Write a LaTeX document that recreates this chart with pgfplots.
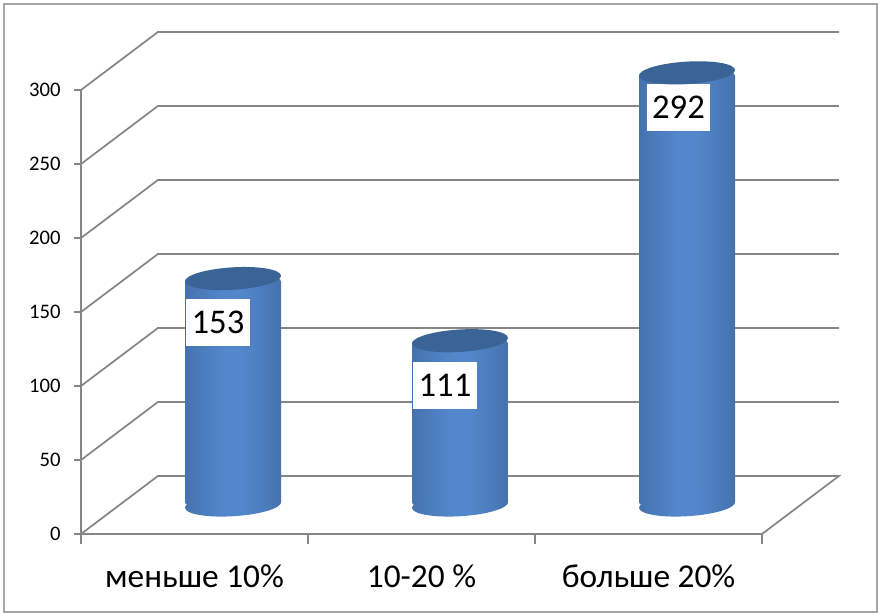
\documentclass[border=0pt]{standalone}
\usepackage{fontspec}
\setmainfont{Carlito}
\usepackage{pgfplots}
\pgfplotsset{compat=1.18}
\definecolor{gridc}{HTML}{868686}
\definecolor{framec}{HTML}{A6A6A6}
\definecolor{capc}{HTML}{3A6496}
\definecolor{cyla}{HTML}{2E4F7E}
\definecolor{cylb}{HTML}{3F689E}
\definecolor{cylc}{HTML}{5287CC}
\definecolor{cyld}{HTML}{3F689E}
\definecolor{cyle}{HTML}{2B4A77}
\pgfdeclarehorizontalshading{barcyl}{100bp}{
  color(0bp)=(cyla);
  color(15bp)=(cylb);
  color(45bp)=(cylc);
  color(55bp)=(cylc);
  color(85bp)=(cyld);
  color(100bp)=(cyle)}
\pgfdeclareplotmark{cylbase}{%
  \pgfpathellipse{\pgfpointorigin}{\pgfqpoint{36pt}{2.2pt}}{\pgfqpoint{-0.5pt}{8.4pt}}%
  \pgfshadepath{barcyl}{0}\pgfusepath{discard}}
\pgfdeclareplotmark{cyltop}{%
  \pgfpathellipse{\pgfpointorigin}{\pgfqpoint{36pt}{2.2pt}}{\pgfqpoint{-0.5pt}{8.4pt}}%
  \pgfusepath{fill}}
\begin{document}
\begin{tikzpicture}
\path[use as bounding box,fill=white] (0pt,0pt) rectangle (660.75pt,462pt);
\draw[framec,line width=1.1pt] (3pt,3pt) rectangle (657.75pt,459pt);
\begin{axis}[
  at={(60.75pt,61.5pt)},
  anchor=south west,
  scale only axis,width=510.75pt,height=333pt,
  xmin=0,xmax=3,ymin=0,ymax=300,
  clip=false,
  axis lines*=left,
  axis line style={-,gridc,line width=1.8pt},
  tick align=outside,
  xtick={0,1,2,3},
  x tick label as interval,
  xticklabels={меньше 10\%,10-20 \%,больше 20\%},
  ytick={0,50,100,150,200,250,300},
  xtick style={gridc,line width=1.2pt,/pgfplots/major tick length=7.5pt},
  ytick style={gridc,line width=1.2pt,/pgfplots/major tick length=5.25pt},
  minor tick num=0,
  /pgf/number format/assume math mode=true,
  yticklabel style={font=\fontsize{15.5}{18}\selectfont,xshift=-7.5pt},
  xticklabel style={font=\fontsize{25}{28}\selectfont,yshift=-15pt},
]
\addplot[gridc,line width=1.3pt,forget plot,unbounded coords=jump] coordinates {
 (0,0) (0.339,39.2) (3.339,39.2) (3,0)
 (nan,nan)
 (0,50) (0.339,89.2) (3.339,89.2)
 (nan,nan)
 (0,100) (0.339,139.2) (3.339,139.2)
 (nan,nan)
 (0,150) (0.339,189.2) (3.339,189.2)
 (nan,nan)
 (0,200) (0.339,239.2) (3.339,239.2)
 (nan,nan)
 (0,250) (0.339,289.2) (3.339,289.2)
 (nan,nan)
 (0,300) (0.339,339.2) (3.339,339.2)
};
\end{axis}
\begin{axis}[
  at={(89.625pt,83.25pt)},anchor=south west,
  scale only axis,width=510.75pt,height=333pt,
  xmin=0,xmax=3,ymin=0,ymax=300,
  clip=false,axis lines=none,
]
\addplot[only marks,mark=cylbase,mark options={draw=none}] coordinates {(0.5,0) (1.5,0) (2.5,0)};
\addplot[ybar,bar width=72pt,bar shift=0pt,draw=none,shade,shading=barcyl,rounded corners=2.2pt] coordinates {(0.5,153)};
\addplot[ybar,bar width=72pt,bar shift=0pt,draw=none,shade,shading=barcyl,rounded corners=2.2pt] coordinates {(1.5,111)};
\addplot[ybar,bar width=72pt,bar shift=0pt,draw=none,shade,shading=barcyl,rounded corners=2.2pt] coordinates {(2.5,292)};
\addplot[only marks,mark=cyltop,mark options={draw=none,fill=capc}] coordinates {(0.5,153) (1.5,111) (2.5,292)};
\tikzset{dl/.style={fill=white,inner sep=0pt,minimum width=47.5pt,minimum height=35pt,font=\fontsize{26}{30}\selectfont}}
\node[dl,xshift=-11.25pt,yshift=-33pt] at (axis cs:0.5,153) {153};
\node[dl,xshift=-11.25pt,yshift=-33.5pt] at (axis cs:1.5,111) {111};
\node[dl,xshift=-6.4pt,yshift=-26pt] at (axis cs:2.5,292) {292};
\end{axis}
\end{tikzpicture}
\end{document}
